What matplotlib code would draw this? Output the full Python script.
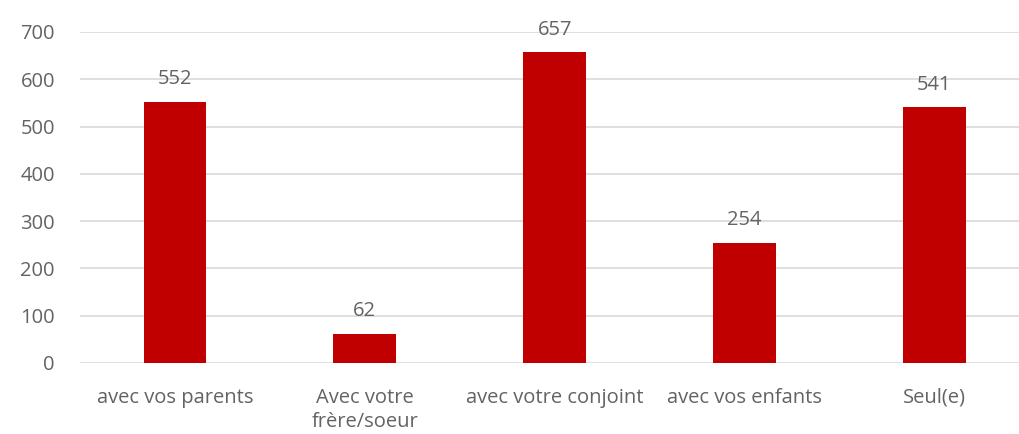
import matplotlib
matplotlib.use('Agg')
import matplotlib.pyplot as plt

categories = ['avec vos parents', 'Avec votre\nfrère/soeur', 'avec votre conjoint',
              'avec vos enfants', 'Seul(e)']
values = [552, 62, 657, 254, 541]
yticks = [0, 100, 200, 300, 400, 500, 600, 700]

plt.rcParams['font.family'] = ['Open Sans', 'DejaVu Sans']
txt = '#636363'
fs = 14.5

fig = plt.figure(figsize=(10.2, 4.34), dpi=100)
ax = fig.add_axes([0.0784, 0.1636, 0.9216, 0.7627])

pos = list(range(len(values)))
bars = ax.bar(pos, values, width=0.33, color='#C00000', zorder=2)

for p, v in zip(pos, values):
    ax.annotate(str(v), (p, v), xytext=(0, 9), textcoords='offset points',
                ha='center', va='bottom', fontsize=fs, color=txt, annotation_clip=False)

ax.set_xlim(-0.5, 4.45)
ax.set_ylim(0, 700)
ax.set_yticks(yticks)
ax.set_xticks(pos)
ax.set_xticklabels(categories, fontsize=fs, color=txt, linespacing=1.25, va='top')
ax.tick_params(axis='y', labelsize=fs, labelcolor=txt, length=0, pad=18)
ax.tick_params(axis='x', length=0, pad=18)
ax.grid(axis='y', color='#D9D9D9', linewidth=1.2, zorder=0)
for s in ax.spines.values():
    s.set_visible(False)

plt.savefig('out.png', dpi=100)
